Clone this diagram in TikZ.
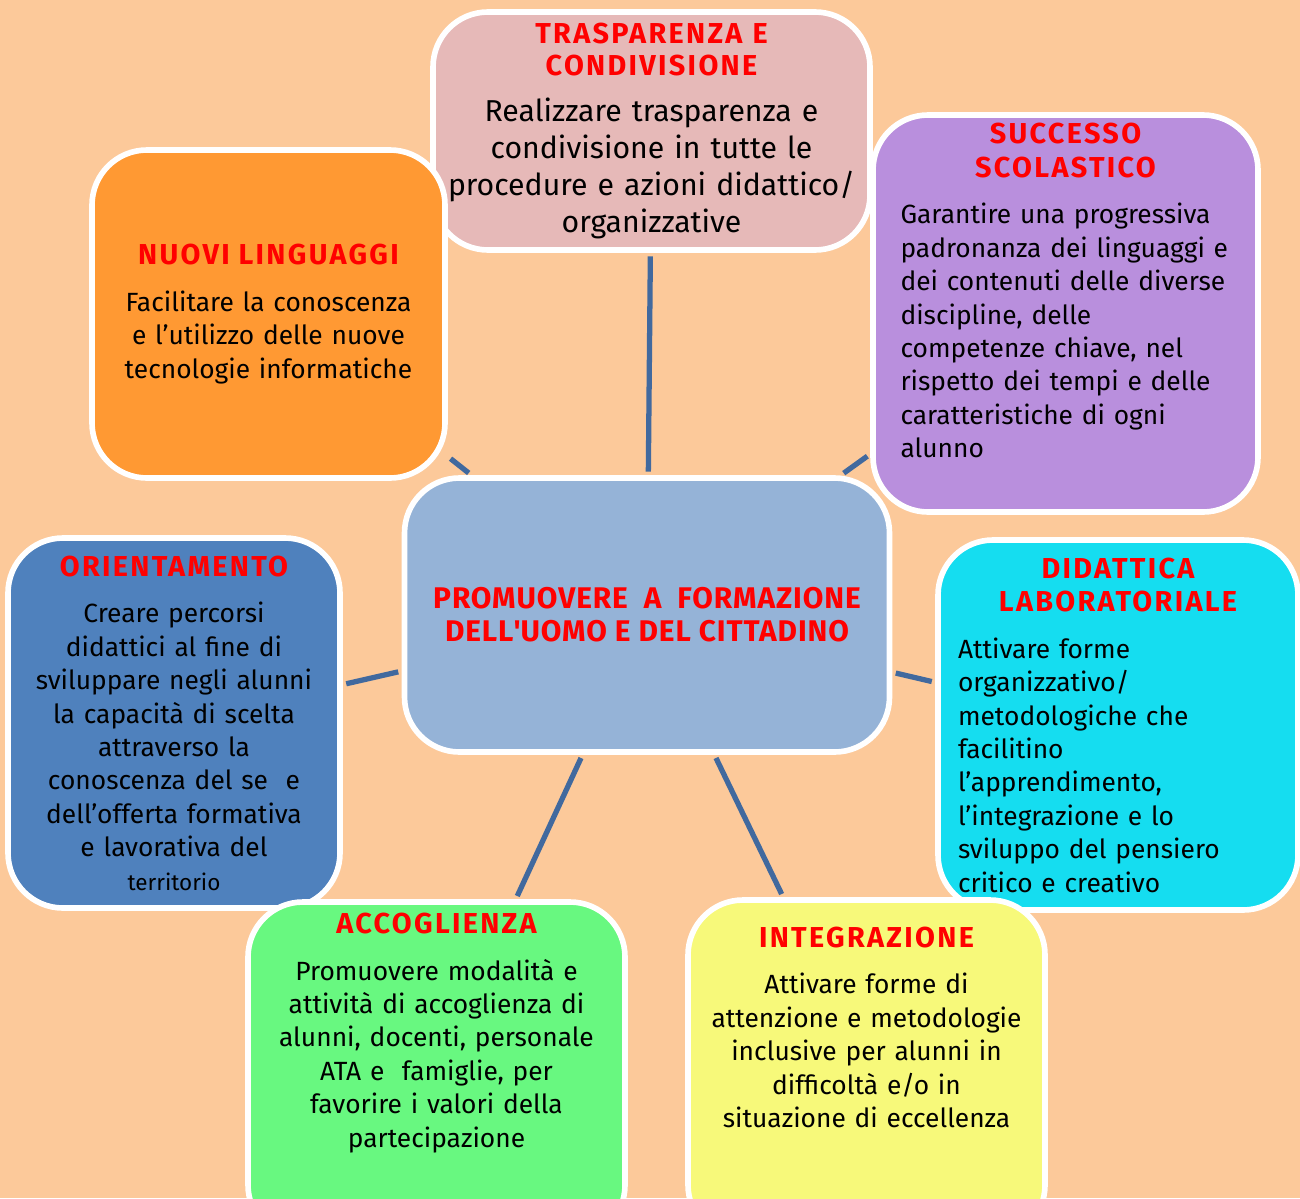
\documentclass[tikz,border=0pt]{standalone}
\usepackage{fontspec}
\setmainfont{Fira Sans}
\usetikzlibrary{positioning}
\definecolor{cbg}{HTML}{FCC99A}
\definecolor{cred}{HTML}{FF0000}
\definecolor{clink}{HTML}{41699E}
\definecolor{ccen}{HTML}{95B3D7}
\definecolor{cpink}{HTML}{E6B9B8}
\definecolor{corange}{HTML}{FF9933}
\definecolor{cpurple}{HTML}{B98FDD}
\definecolor{cblue}{HTML}{4F81BD}
\definecolor{ccyan}{HTML}{15DDF0}
\definecolor{cgreen}{HTML}{68F880}
\definecolor{cyellow}{HTML}{F7F97A}
\newcommand{\bodyfont}{\fontsize{7.5}{9.5}\selectfont}
\newcommand{\titlefont}{\fontsize{8.2}{9.4}\selectfont\bfseries\addfontfeature{LetterSpace=8}\color{cred}}
\newcommand{\boxtitle}[1]{\leavevmode\hbox to\hsize{\hss\titlefont #1\hss}}
\tikzset{
  every picture/.style={font=\bodyfont},
  box/.style={draw=white, fill=#1, line width=1.6pt, rounded corners=0.55cm, inner sep=0pt, align=center},
  box/.default=ccen,
  link/.style={draw=clink, line width=1.5pt, shorten <=1pt, shorten >=1pt},
}
\begin{document}
\begin{tikzpicture}
  \fill[cbg] (0,0) rectangle (13,-11.98);
  \useasboundingbox (0,0) rectangle (13,-11.98);
  % centre
  \node[box, minimum width=4.85cm, minimum height=2.74cm, text=cred,
    font=\fontsize{8.5}{9.4}\selectfont\bfseries\addfontfeature{LetterSpace=3}] (cen) at (6.47,-6.15)
    {PROMUOVERE\ \ A\ \ FORMAZIONE\\DELL\textquotesingle UOMO E DEL CITTADINO};
  % satellites
  \node[box=cpink, minimum width=4.37cm, minimum height=2.38cm, text width=4.2cm,
    font=\fontsize{8.6}{10.5}\selectfont] (tra) at (6.515,-1.31)
    {\boxtitle{TRASPARENZA E}\\[-1.4pt]\boxtitle{CONDIVISIONE}\\[2.6pt]
     Realizzare trasparenza e\\condivisione in tutte le\\procedure e azioni didattico/\\organizzative};
  \node[box=corange, minimum width=3.53cm, minimum height=3.28cm, text width=3.3cm] (nuo) at (2.685,-3.14)
    {\boxtitle{NUOVI LINGUAGGI}\\[3.8pt]
     Facilitare la conoscenza\\e l’utilizzo delle nuove\\tecnologie informatiche};
  \node[box=cpurple, minimum width=3.85cm, minimum height=3.97cm, text width=3.3cm, align=left] (suc) at (10.655,-3.135)
    {\boxtitle{SUCCESSO}\\\boxtitle{SCOLASTICO}\\[3.8pt]
     Garantire una progressiva\\padronanza dei linguaggi e\\dei contenuti delle diverse\\discipline, delle\\competenze chiave, nel\\rispetto dei tempi e delle\\caratteristiche di ogni\\alunno\rule[-0.46cm]{0pt}{0pt}};
  \node[box=cblue, minimum width=3.32cm, minimum height=3.7cm, text width=3.1cm] (ori) at (1.74,-7.23)
    {\boxtitle{ORIENTAMENTO}\\[3.8pt]
     Creare percorsi\\didattici al fine di\\sviluppare negli alunni\\la capacità di scelta\\attraverso la\\conoscenza del se\ \ e\\dell’offerta formativa\\e lavorativa del\\{\fontsize{6.4}{9.5}\selectfont territorio}};
  \node[box=ccyan, minimum width=3.6cm, minimum height=3.7cm, text width=3.2cm, align=left] (did) at (11.18,-7.25)
    {\boxtitle{DIDATTICA}\\\boxtitle{LABORATORIALE}\\[3.8pt]
     Attivare forme\\organizzativo/\\metodologiche che\\facilitino\\l’apprendimento,\\l’integrazione e lo\\sviluppo del pensiero\\critico e creativo};
  \node[box=cgreen, minimum width=3.77cm, minimum height=3.38cm, text width=3.5cm] (acc) at (4.365,-10.71)
    {\boxtitle{ACCOGLIENZA}\\[3.8pt]
     Promuovere modalità e\\attività di accoglienza di\\alunni, docenti, personale\\ATA e\ \ famiglie, per\\favorire i valori della\\partecipazione\rule[-0.82cm]{0pt}{0pt}};
  \node[box=cyellow, minimum width=3.57cm, minimum height=3.4cm, text width=3.4cm] (int) at (8.665,-10.7)
    {\boxtitle{INTEGRAZIONE}\\[3.8pt]
     Attivare forme di\\attenzione e metodologie\\inclusive per alunni in\\difficoltà e/o in\\situazione di eccellenza\rule[-0.86cm]{0pt}{0pt}};
  % connectors
  \foreach \n in {tra,nuo,suc,ori,did,acc,int}
    \draw[link] (cen) -- (\n);
\end{tikzpicture}
\end{document}
